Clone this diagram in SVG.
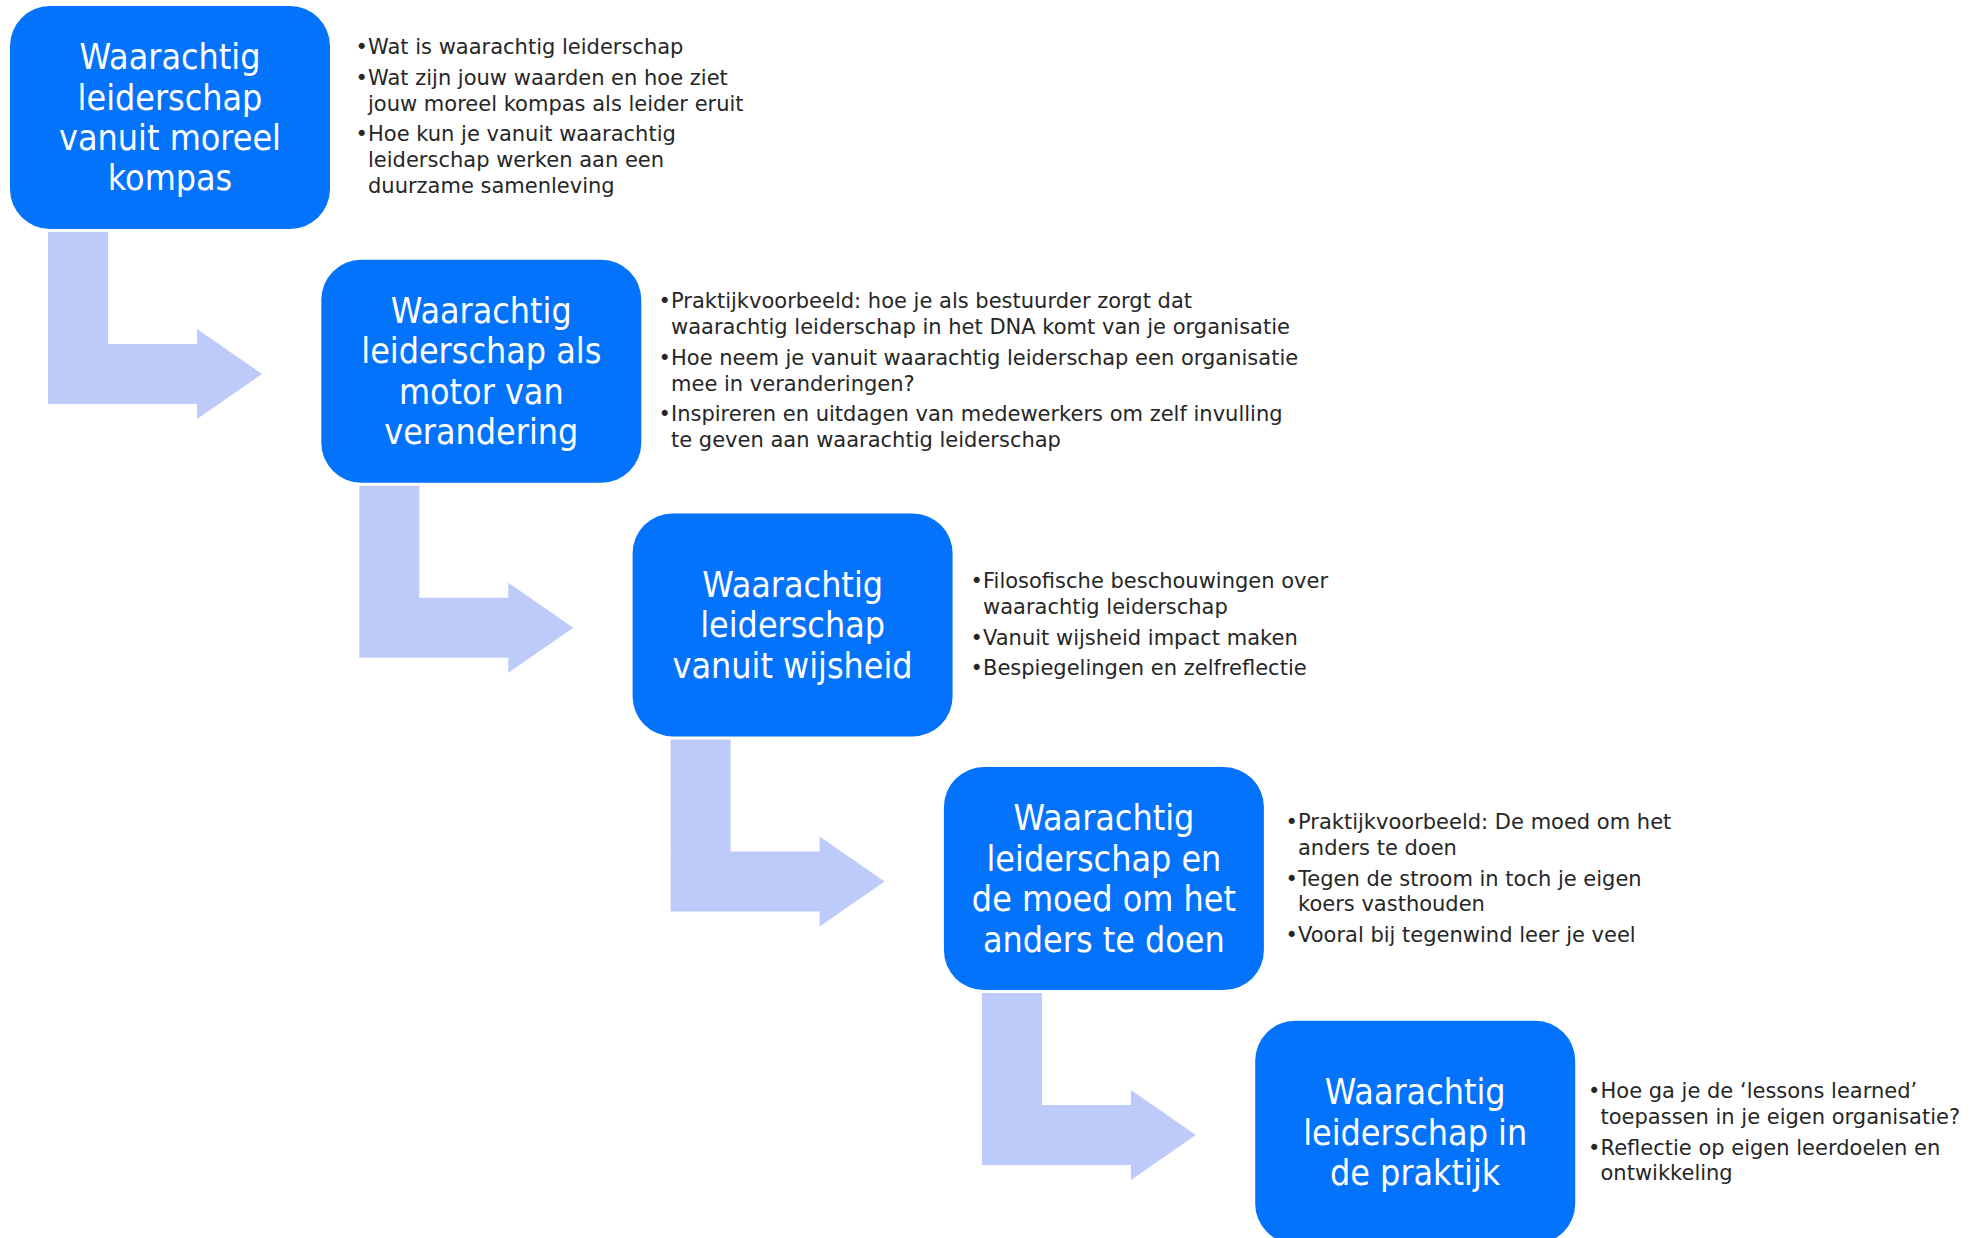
<svg xmlns="http://www.w3.org/2000/svg" width="1984" height="1238" viewBox="0 0 1984 1238">
<style>
.box{fill:#0473FB}
.arrow{fill:#BDCAFA}
.bt{font-family:"DejaVu Sans","Verdana",sans-serif;font-size:35.5px;fill:#FFFFFF;text-anchor:middle}
.tx{font-family:"DejaVu Sans","Verdana",sans-serif;font-size:22px;fill:#262626}
</style>
<rect width="1984" height="1238" fill="#FFFFFF"/>
<g id="connectors">
<path class="arrow" d="M48,232 H108 V344 H197 V329 L262,374 L197,419 V404 H48 Z"/>
<path class="arrow" d="M359.3,485.7 H419.3 V597.7 H508.3 V582.7 L573.3,627.7 L508.3,672.7 V657.7 H359.3 Z"/>
<path class="arrow" d="M670.6,739.4 H730.6 V851.4 H819.6 V836.4 L884.6,881.4 L819.6,926.4 V911.4 H670.6 Z"/>
<path class="arrow" d="M981.9,993.1 H1041.9 V1105.1 H1130.9 V1090.1 L1195.9,1135.1 L1130.9,1180.1 V1165.1 H981.9 Z"/>
</g>
<g id="node1">
<rect class="box" x="10" y="6" width="320" height="223" rx="40"/>
<g transform="translate(170 0) scale(0.9 1)">
<text class="bt" x="0" y="69.3">Waarachtig</text>
<text class="bt" x="0" y="109.7">leiderschap</text>
<text class="bt" x="0" y="150.1">vanuit moreel</text>
<text class="bt" x="0" y="190.5">kompas</text>
</g>
<g transform="translate(368 0) scale(0.955 1)">
<text class="tx" x="-13" y="54.5">•</text><text class="tx" x="0" y="54.5">Wat is waarachtig leiderschap</text>
<text class="tx" x="-13" y="85">•</text><text class="tx" x="0" y="85">Wat zijn jouw waarden en hoe ziet</text>
<text class="tx" x="0" y="110.8">jouw moreel kompas als leider eruit</text>
<text class="tx" x="-13" y="141.3">•</text><text class="tx" x="0" y="141.3">Hoe kun je vanuit waarachtig</text>
<text class="tx" x="0" y="167.1">leiderschap werken aan een</text>
<text class="tx" x="0" y="192.9">duurzame samenleving</text>
</g>
</g>
<g id="node2">
<rect class="box" x="321.3" y="259.7" width="320" height="223" rx="40"/>
<g transform="translate(481.3 0) scale(0.9 1)">
<text class="bt" x="0" y="323">Waarachtig</text>
<text class="bt" x="0" y="363.4">leiderschap als</text>
<text class="bt" x="0" y="403.8">motor van</text>
<text class="bt" x="0" y="444.2">verandering</text>
</g>
<g transform="translate(671 0) scale(0.955 1)">
<text class="tx" x="-13" y="308.5">•</text><text class="tx" x="0" y="308.5">Praktijkvoorbeeld: hoe je als bestuurder zorgt dat</text>
<text class="tx" x="0" y="334.3">waarachtig leiderschap in het DNA komt van je organisatie</text>
<text class="tx" x="-13" y="364.8">•</text><text class="tx" x="0" y="364.8">Hoe neem je vanuit waarachtig leiderschap een organisatie</text>
<text class="tx" x="0" y="390.6">mee in veranderingen?</text>
<text class="tx" x="-13" y="421.1">•</text><text class="tx" x="0" y="421.1">Inspireren en uitdagen van medewerkers om zelf invulling</text>
<text class="tx" x="0" y="446.9">te geven aan waarachtig leiderschap</text>
</g>
</g>
<g id="node3">
<rect class="box" x="632.6" y="513.4" width="320" height="223" rx="40"/>
<g transform="translate(792.6 0) scale(0.9 1)">
<text class="bt" x="0" y="596.9">Waarachtig</text>
<text class="bt" x="0" y="637.3">leiderschap</text>
<text class="bt" x="0" y="677.7">vanuit wijsheid</text>
</g>
<g transform="translate(983 0) scale(0.955 1)">
<text class="tx" x="-13" y="588.5">•</text><text class="tx" x="0" y="588.5">Filosofische beschouwingen over</text>
<text class="tx" x="0" y="614.3">waarachtig leiderschap</text>
<text class="tx" x="-13" y="644.8">•</text><text class="tx" x="0" y="644.8">Vanuit wijsheid impact maken</text>
<text class="tx" x="-13" y="675.3">•</text><text class="tx" x="0" y="675.3">Bespiegelingen en zelfreflectie</text>
</g>
</g>
<g id="node4">
<rect class="box" x="943.9" y="767.1" width="320" height="223" rx="40"/>
<g transform="translate(1103.9 0) scale(0.9 1)">
<text class="bt" x="0" y="830.4">Waarachtig</text>
<text class="bt" x="0" y="870.8">leiderschap en</text>
<text class="bt" x="0" y="911.2">de moed om het</text>
<text class="bt" x="0" y="951.6">anders te doen</text>
</g>
<g transform="translate(1298 0) scale(0.955 1)">
<text class="tx" x="-13" y="829.3">•</text><text class="tx" x="0" y="829.3">Praktijkvoorbeeld: De moed om het</text>
<text class="tx" x="0" y="855.1">anders te doen</text>
<text class="tx" x="-13" y="885.6">•</text><text class="tx" x="0" y="885.6">Tegen de stroom in toch je eigen</text>
<text class="tx" x="0" y="911.4">koers vasthouden</text>
<text class="tx" x="-13" y="941.9">•</text><text class="tx" x="0" y="941.9">Vooral bij tegenwind leer je veel</text>
</g>
</g>
<g id="node5">
<rect class="box" x="1255.2" y="1020.8" width="320" height="223" rx="40"/>
<g transform="translate(1415.2 0) scale(0.9 1)">
<text class="bt" x="0" y="1104.3">Waarachtig</text>
<text class="bt" x="0" y="1144.7">leiderschap in</text>
<text class="bt" x="0" y="1185.1">de praktijk</text>
</g>
<g transform="translate(1600.5 0) scale(0.955 1)">
<text class="tx" x="-13" y="1098.3">•</text><text class="tx" x="0" y="1098.3">Hoe ga je de ‘lessons learned’</text>
<text class="tx" x="0" y="1124.1">toepassen in je eigen organisatie?</text>
<text class="tx" x="-13" y="1154.6">•</text><text class="tx" x="0" y="1154.6">Reflectie op eigen leerdoelen en</text>
<text class="tx" x="0" y="1180.4">ontwikkeling</text>
</g>
</g>
</svg>
